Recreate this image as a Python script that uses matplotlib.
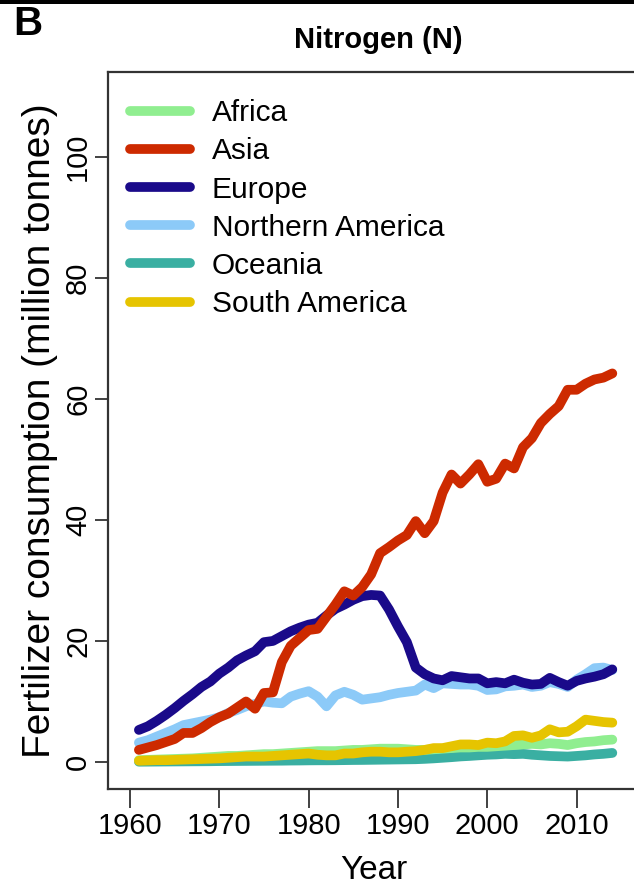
import numpy as np
import matplotlib
matplotlib.use("Agg")
import matplotlib.pyplot as plt
from matplotlib.patches import Rectangle

plt.rcParams['font.family'] = ['Liberation Sans', 'DejaVu Sans']

years = list(range(1961, 2015))

africa = [0.3, 0.35, 0.4, 0.45, 0.5, 0.55, 0.6, 0.7, 0.8, 0.9,
          1.0, 1.0, 1.1, 1.2, 1.3, 1.3, 1.4, 1.5, 1.6, 1.7,
          1.8, 1.8, 1.8, 1.9, 2.0, 2.0, 2.1, 2.2, 2.2, 2.2,
          2.1, 2.0, 2.0, 2.1, 2.2, 2.3, 2.4, 2.4, 2.5, 2.5,
          2.6, 2.7, 2.8, 2.9, 3.0, 2.9, 3.1, 3.0, 2.8, 3.1,
          3.3, 3.4, 3.6, 3.7]
asia = [2.0, 2.4, 2.8, 3.3, 3.8, 4.8, 4.8, 5.6, 6.6, 7.4,
        8.0, 9.0, 10.0, 8.8, 11.4, 11.5, 16.5, 19.2, 20.5, 21.8,
        22.0, 24.0, 26.0, 28.2, 27.5, 28.9, 31.0, 34.5, 35.5, 36.6,
        37.5, 39.8, 37.8, 39.8, 44.5, 47.5, 46.0, 47.5, 49.2, 46.3,
        46.8, 49.3, 48.5, 52.0, 53.5, 56.0, 57.5, 58.8, 61.5, 61.5,
        62.5, 63.2, 63.5, 64.2]
europe = [5.3, 5.9, 6.8, 7.8, 8.9, 10.1, 11.2, 12.4, 13.3, 14.6,
          15.6, 16.8, 17.6, 18.3, 19.8, 20.0, 20.8, 21.6, 22.2, 22.7,
          23.0, 24.2, 25.3, 26.0, 26.8, 27.4, 27.6, 27.5, 25.2, 22.4,
          19.8, 15.6, 14.5, 13.8, 13.5, 14.2, 14.0, 13.8, 13.8, 13.0,
          13.2, 13.0, 13.6, 13.1, 12.8, 12.9, 13.9, 13.2, 12.6, 13.4,
          13.8, 14.1, 14.5, 15.3]
n_america = [3.2, 3.6, 4.2, 4.8, 5.4, 6.1, 6.4, 6.7, 7.0, 7.4,
             8.1, 8.6, 9.2, 9.6, 10.0, 9.8, 9.7, 10.8, 11.3, 11.7,
             10.8, 9.2, 11.0, 11.6, 11.1, 10.3, 10.5, 10.7, 11.1, 11.4,
             11.6, 11.8, 12.8, 12.2, 13.0, 12.9, 12.8, 12.8, 12.6, 11.9,
             12.0, 12.5, 12.6, 12.8, 12.4, 12.6, 13.2, 12.9, 12.4, 13.6,
             14.5, 15.5, 15.6, 15.2]
oceania = [0.05, 0.06, 0.07, 0.08, 0.09, 0.1, 0.11, 0.12, 0.13, 0.15,
           0.16, 0.17, 0.18, 0.19, 0.2, 0.21, 0.22, 0.24, 0.25, 0.27,
           0.28, 0.28, 0.29, 0.31, 0.33, 0.34, 0.36, 0.38, 0.4, 0.42,
           0.44, 0.46, 0.52, 0.6, 0.7, 0.8, 0.92, 1.0, 1.1, 1.2,
           1.25, 1.35, 1.3, 1.35, 1.2, 1.1, 1.0, 0.95, 0.9, 1.0,
           1.1, 1.25, 1.35, 1.5]
s_america = [0.2, 0.25, 0.3, 0.3, 0.35, 0.4, 0.45, 0.5, 0.55, 0.6,
             0.7, 0.8, 0.9, 0.9, 0.9, 1.0, 1.1, 1.2, 1.3, 1.4,
             1.2, 1.1, 1.1, 1.4, 1.4, 1.6, 1.7, 1.7, 1.6, 1.6,
             1.7, 1.8, 2.0, 2.3, 2.3, 2.6, 2.9, 2.9, 2.8, 3.2,
             3.1, 3.4, 4.3, 4.4, 4.0, 4.4, 5.4, 4.9, 5.0, 5.9,
             7.0, 6.8, 6.6, 6.5]

regions = ["Africa", "Asia", "Europe", "Northern America", "Oceania", "South America"]
colors = {"Africa": "#90ee90", "Asia": "#cd2a00", "Europe": "#1a0a8a",
          "Northern America": "#8ccaf8", "Oceania": "#3aafa2", "South America": "#e6c400"}
series = {"Africa": africa, "Asia": asia, "Europe": europe,
          "Northern America": n_america, "Oceania": oceania, "South America": s_america}
# order lines are stacked in (last on top)
draw_order = ["Oceania", "Africa", "South America", "Northern America", "Europe", "Asia"]

W, H = 634, 892
fig = plt.figure(figsize=(W / 100, H / 100), dpi=100)
ax = fig.add_axes([108 / W, (H - 789) / H, (640 - 108) / W, (789 - 72) / H])

handles = {}
for r in draw_order:
    ln, = ax.plot(years, series[r], color=colors[r], lw=7, solid_capstyle='round',
                  solid_joinstyle='round', label=r)
    handles[r] = ln

ax.set_xlim(1957.54, 2017.1)
ax.set_ylim(-4.46, 114.0)
ax.set_xticks([1960, 1970, 1980, 1990, 2000, 2010])
ax.set_yticks([0, 20, 40, 60, 80, 100])
ax.tick_params(axis='x', length=13.5, width=1.3, labelsize=21, pad=3, color='#333333')
ax.tick_params(axis='y', length=9.5, width=1.3, labelsize=21, pad=2, color='#333333')
for lab in ax.get_yticklabels():
    lab.set_rotation(90)
    lab.set_va('center')
for s in ax.spines.values():
    s.set_linewidth(1.6)
    s.set_color('#333333')

ax.set_xlabel("Year", fontsize=24, labelpad=11)
ax.set_ylabel("Fertilizer consumption (million tonnes)", fontsize=28, labelpad=4)

leg = ax.legend([handles[r] for r in regions], regions, loc='upper left',
                bbox_to_anchor=(0.041, 0.962), frameon=False, fontsize=21.5,
                handlelength=2.0, handletextpad=0.74, labelspacing=0.34,
                borderpad=0, borderaxespad=0)
for ln in leg.get_lines():
    ln.set_linewidth(7)
    ln.set_solid_capstyle('round')

fig.text(378 / W, 1 - 40 / H, "Nitrogen (N)", fontsize=21, fontweight='bold',
         ha='center', va='center')
fig.text(13 / W, 1 - 24 / H, "B", fontsize=29, fontweight='bold', ha='left', va='center')

# thin black band along the top edge
fig.add_artist(Rectangle((0, 1 - 4 / H), 1, 4 / H, transform=fig.transFigure,
                         color='black', lw=0))

fig.savefig("out.png", dpi=100)
